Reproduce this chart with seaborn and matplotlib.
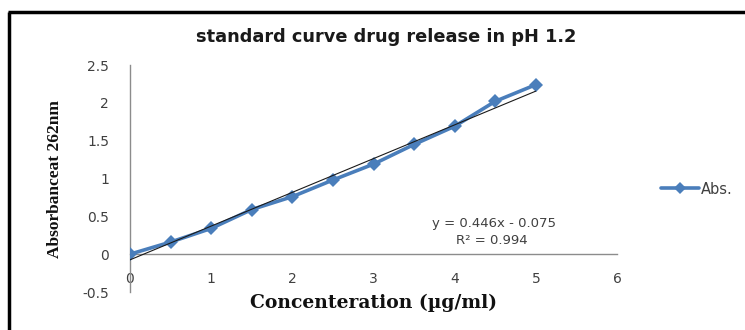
import matplotlib
matplotlib.use("Agg")
import matplotlib.pyplot as plt
from matplotlib.lines import Line2D
import seaborn as sns
import pandas as pd
import numpy as np

# Calibration data: concentration (µg/ml) vs absorbance at 262 nm
concentration = [0, 0.5, 1, 1.5, 2, 2.5, 3, 3.5, 4, 4.5, 5]
absorbance = [0.0, 0.16, 0.34, 0.59, 0.76, 0.98, 1.19, 1.45, 1.69, 2.02, 2.24]

# Linear trendline coefficients reported on the chart
slope = 0.446
intercept = -0.075
r_squared = 0.994

x_ticks = [0, 1, 2, 3, 4, 5, 6]
y_ticks = [-0.5, 0, 0.5, 1, 1.5, 2, 2.5]

series_color = "#4A7EBB"
axis_color = "#8C8C8C"
text_color = "#404040"

sns.set_theme(style="white")
plt.rcParams["font.family"] = ["DejaVu Sans"]

df = pd.DataFrame({"conc": concentration, "abs": absorbance})

W, H = 745, 330
fig = plt.figure(figsize=(W / 100, H / 100), dpi=100)
ax = fig.add_axes([130 / W, 1 - 292 / H, (617 - 130) / W, (292 - 65) / H])

sns.lineplot(data=df, x="conc", y="abs", ax=ax, color=series_color,
             linewidth=2.6, marker="D", markersize=7.5, markeredgewidth=0,
             legend=False, zorder=3)

# trendline from the fitted equation
tx = np.array([concentration[0], concentration[-1]])
ax.plot(tx, slope * tx + intercept, color="#1a1a1a", linewidth=0.8, zorder=4)

ax.set_xlim(0, 6)
ax.set_ylim(-0.5, 2.5)
ax.set_xticks(x_ticks)
ax.set_yticks(y_ticks)
ax.set_xticklabels([f"{v:g}" for v in x_ticks])
ax.set_yticklabels([f"{v:g}" for v in y_ticks])

for side in ("top", "right"):
    ax.spines[side].set_visible(False)
ax.spines["left"].set_color(axis_color)
ax.spines["left"].set_linewidth(1.0)
ax.spines["bottom"].set_color(axis_color)
ax.spines["bottom"].set_linewidth(1.0)
ax.spines["bottom"].set_position(("data", 0))

ax.tick_params(axis="y", length=0, pad=15, labelsize=10, labelcolor=text_color)
ax.tick_params(axis="x", length=0, pad=13, labelsize=10, labelcolor=text_color)

ax.set_xlabel("")
ax.set_ylabel("")

fig.text(373 / W, 1 - 303 / H, "Concenteration (µg/ml)", ha="center", va="center",
         fontsize=13.5, fontweight="bold", family="DejaVu Serif", color="#111111")
fig.text(55 / W, 1 - 179 / H, "Absorbanceat 262nm", ha="center", va="center",
         rotation=90, fontsize=12.5, fontweight="bold", family="Liberation Serif",
         color="#111111")

fig.text(386 / W, 1 - 37 / H, "standard curve drug release in pH 1.2",
         ha="center", va="center", fontsize=12.8, fontweight="bold", color="#1a1a1a")

# trendline equation
ax.text(494 / W, 1 - 224 / H, f"y = {slope:g}x - {abs(intercept):g}",
        transform=fig.transFigure, ha="center", va="center", fontsize=9.5,
        color=text_color)
ax.text(492 / W, 1 - 240 / H, f"R² = {r_squared:g}",
        transform=fig.transFigure, ha="center", va="center", fontsize=9.5,
        color=text_color)

# legend
handle = Line2D([], [], color=series_color, linewidth=2.6, marker="D",
                markersize=6, markeredgewidth=0)
fig.legend([handle], ["Abs."], loc="center left",
           bbox_to_anchor=(648 / W, 1 - 189 / H), frameon=False,
           fontsize=10.5, handlelength=2.6, handletextpad=0.1,
           labelcolor=text_color)

# chart frame
fig.add_artist(Line2D([9 / W, 9 / W], [0, 1 - 12 / H], transform=fig.transFigure,
                      color="black", linewidth=2.5, solid_capstyle="butt"))
fig.add_artist(Line2D([8 / W, 1], [1 - 12 / H, 1 - 12 / H], transform=fig.transFigure,
                      color="black", linewidth=2.5, solid_capstyle="butt"))

fig.savefig("out.png", dpi=100)
